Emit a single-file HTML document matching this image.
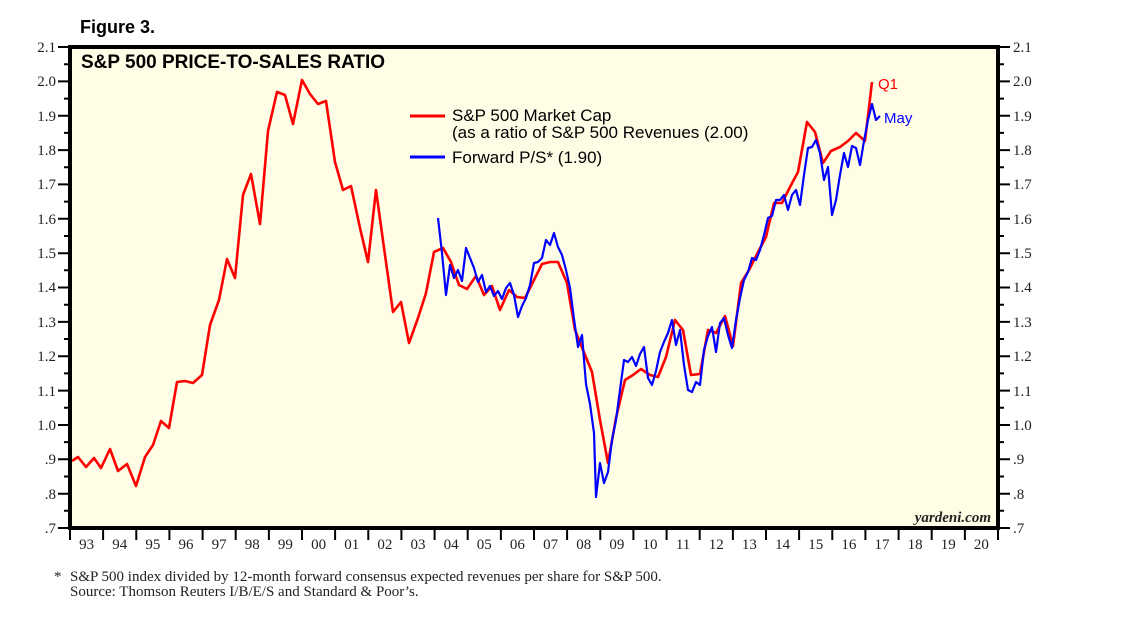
<!DOCTYPE html>
<html><head><meta charset="utf-8"><style>
body{margin:0;background:#fff;}
svg{display:block}
.s{font-family:"Liberation Serif",serif;font-size:15px;fill:#222}
.a{font-family:"Liberation Sans",sans-serif}
</style></head><body>
<svg width="1138" height="621" viewBox="0 0 1138 621">
<rect x="70" y="47" width="928" height="481" fill="#fffde6"/>
<text x="80" y="33" class="a" font-size="18" font-weight="bold">Figure 3.</text>
<text x="81" y="68" class="a" font-size="19" font-weight="bold">S&amp;P 500 PRICE-TO-SALES RATIO</text>
<g stroke="#000" stroke-width="2">
<path d="M58 47H70M58 81.4H70M58 115.7H70M58 150.1H70M58 184.4H70M58 218.8H70M58 253.2H70M58 287.5H70M58 321.9H70M58 356.2H70M58 390.6H70M58 425H70M58 459.3H70M58 493.7H70M58 528H70"/>
<path d="M64 64.2H70M64 98.6H70M64 132.9H70M64 167.3H70M64 201.6H70M64 236H70M64 270.3H70M64 304.7H70M64 339H70M64 373.4H70M64 407.8H70M64 442.1H70M64 476.5H70M64 510.8H70"/>
<path d="M998 47H1010M998 81.4H1010M998 115.7H1010M998 150.1H1010M998 184.4H1010M998 218.8H1010M998 253.2H1010M998 287.5H1010M998 321.9H1010M998 356.2H1010M998 390.6H1010M998 425H1010M998 459.3H1010M998 493.7H1010M998 528H1010"/>
<path d="M998 64.2H1004M998 98.6H1004M998 132.9H1004M998 167.3H1004M998 201.6H1004M998 236H1004M998 270.3H1004M998 304.7H1004M998 339H1004M998 373.4H1004M998 407.8H1004M998 442.1H1004M998 476.5H1004M998 510.8H1004"/>
<path d="M70 528V540M103.1 528V540M136.3 528V540M169.4 528V540M202.6 528V540M235.7 528V540M268.9 528V540M302 528V540M335.1 528V540M368.3 528V540M401.4 528V540M434.6 528V540M467.7 528V540M500.9 528V540M534 528V540M567.1 528V540M600.3 528V540M633.4 528V540M666.6 528V540M699.7 528V540M732.9 528V540M766 528V540M799.1 528V540M832.3 528V540M865.4 528V540M898.6 528V540M931.7 528V540M964.9 528V540M998 528V540"/>
</g>
<g class="s" text-anchor="end">
<text x="56" y="52">2.1</text><text x="56" y="86">2.0</text><text x="56" y="121">1.9</text><text x="56" y="155">1.8</text><text x="56" y="189">1.7</text><text x="56" y="224">1.6</text><text x="56" y="258">1.5</text><text x="56" y="292">1.4</text><text x="56" y="327">1.3</text><text x="56" y="361">1.2</text><text x="56" y="396">1.1</text><text x="56" y="430">1.0</text><text x="56" y="464">.9</text><text x="56" y="499">.8</text><text x="56" y="533">.7</text>
</g>
<g class="s">
<text x="1013" y="52">2.1</text><text x="1013" y="86">2.0</text><text x="1013" y="121">1.9</text><text x="1013" y="155">1.8</text><text x="1013" y="189">1.7</text><text x="1013" y="224">1.6</text><text x="1013" y="258">1.5</text><text x="1013" y="292">1.4</text><text x="1013" y="327">1.3</text><text x="1013" y="361">1.2</text><text x="1013" y="396">1.1</text><text x="1013" y="430">1.0</text><text x="1013" y="464">.9</text><text x="1013" y="499">.8</text><text x="1013" y="533">.7</text>
</g>
<g class="s" text-anchor="middle">
<text x="86.6" y="549">93</text><text x="119.7" y="549">94</text><text x="152.9" y="549">95</text><text x="186" y="549">96</text><text x="219.1" y="549">97</text><text x="252.3" y="549">98</text><text x="285.4" y="549">99</text><text x="318.6" y="549">00</text><text x="351.7" y="549">01</text><text x="384.9" y="549">02</text><text x="418" y="549">03</text><text x="451.1" y="549">04</text><text x="484.3" y="549">05</text><text x="517.4" y="549">06</text><text x="550.6" y="549">07</text><text x="583.7" y="549">08</text><text x="616.9" y="549">09</text><text x="650" y="549">10</text><text x="683.1" y="549">11</text><text x="716.3" y="549">12</text><text x="749.4" y="549">13</text><text x="782.6" y="549">14</text><text x="815.7" y="549">15</text><text x="848.9" y="549">16</text><text x="882" y="549">17</text><text x="915.1" y="549">18</text><text x="948.3" y="549">19</text><text x="981.4" y="549">20</text>
</g>
<polyline fill="none" stroke="#f00" stroke-width="2.6" stroke-linejoin="round" points="72,461 78,457 86,467 94,458 101,468 110,449 118,471 127,464 136,486 145,457 153,445 161,421 169,428 177,382 185,381 193,383 202,375 210,325 219,300 227,259 235,278 243,195 251,174 260,224 268,131 277,92 285,95 293,124 302,80 310,94 318,104 326,101 335,162 343,190 351,186 360,228 368,262 376,190 385,255 393,312 401,302 409,343 418,318 426,293 434,252 443,248 451,262 459,285 467,289 476,276 484,295 492,286 500,310 509,290 517,297 525,298 534,280 542,264 550,262 558,262 567,283 575,330 583,350 592,372 600,420 608,463 616,418 625,380 633,375 641,369 650,375 658,377 666,357 675,320 683,330 691,375 700,374 708,330 716,333 725,316 733,346 741,283 749,270 757,254 766,237 774,203 782,203 790,187 798,172 807,122 815,132 823,163 831,151 840,147 848,141 856,133 865,141 872,82"/>
<polyline fill="none" stroke="#00f" stroke-width="2.2" stroke-linejoin="round" points="438,218 442,253 446,295 450,265 454,278 458,270 462,281 466,248 470,258 474,268 478,282 482,275 486,292 490,286 494,296 498,291 502,299 506,288 510,283 514,295 518,317 522,306 526,298 530,285 534,263 538,262 542,258 546,240 550,245 554,233 558,247 562,255 566,270 570,288 574,319 578,347 582,335 586,384 590,404 594,433 596,497 600,463 604,483 608,472 612,440 616,420 620,390 624,360 628,362 632,357 636,366 640,354 644,347 648,378 652,385 656,371 660,352 664,342 668,333 672,320 676,345 680,330 684,365 688,390 692,392 696,382 700,385 704,350 708,336 712,327 716,352 720,323 724,318 728,335 732,348 736,320 740,298 744,280 748,272 752,258 756,260 760,250 764,235 768,218 772,216 776,200 780,200 784,195 788,210 792,195 796,190 800,205 804,175 808,148 812,147 816,140 820,153 824,180 828,167 832,215 836,200 840,175 844,153 848,167 852,146 856,148 860,165 864,141 868,120 872,104 876,120 880,116"/>
<rect x="70" y="47" width="928" height="481" fill="none" stroke="#000" stroke-width="4"/>
<g class="a" font-size="17">
<line x1="410" y1="116" x2="445" y2="116" stroke="#f00" stroke-width="3"/>
<text x="452" y="121">S&amp;P 500 Market Cap</text>
<text x="452" y="138">(as a ratio of S&amp;P 500 Revenues (2.00)</text>
<line x1="410" y1="157" x2="445" y2="157" stroke="#00f" stroke-width="3"/>
<text x="452" y="163">Forward P/S* (1.90)</text>
<text x="878" y="89" fill="#f00" font-size="15">Q1</text>
<text x="884" y="123" fill="#00f" font-size="15">May</text>
</g>
<text x="991" y="522" text-anchor="end" font-family="Liberation Serif,serif" font-style="italic" font-weight="bold" font-size="15" fill="#222">yardeni.com</text>
<g class="s" font-size="14.3">
<text x="54" y="581">*</text>
<text x="70" y="581">S&amp;P 500 index divided by 12-month forward consensus expected revenues per share for S&amp;P 500.</text>
<text x="70" y="596">Source: Thomson Reuters I/B/E/S and Standard &amp; Poor’s.</text>
</g>
</svg>
</body></html>
